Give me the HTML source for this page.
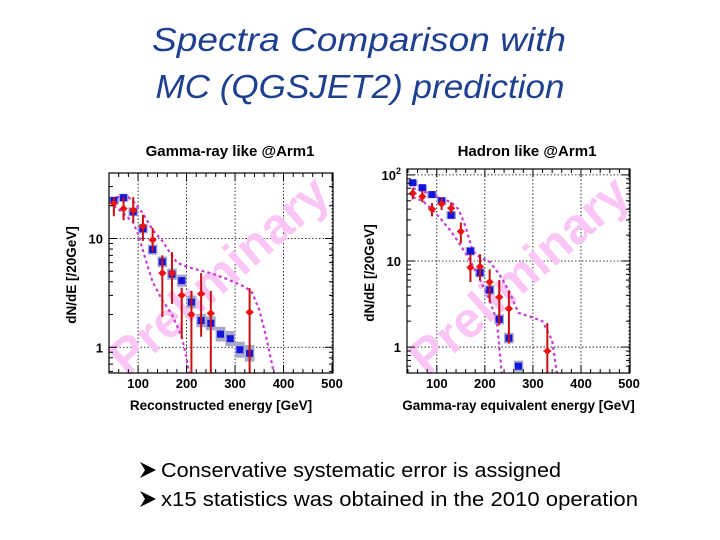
<!DOCTYPE html>
<html><head><meta charset="utf-8"><style>
html,body{margin:0;padding:0;background:#fff;width:720px;height:540px;overflow:hidden}
svg{display:block}
</style></head><body>
<svg id="s" width="720" height="540" xmlns="http://www.w3.org/2000/svg">
<text x="359" y="51" text-anchor="middle" font-family="Liberation Sans, sans-serif" font-style="italic" font-size="33" fill="#1f3f8f" textLength="414" lengthAdjust="spacingAndGlyphs">Spectra Comparison with</text>
<text x="360" y="98" text-anchor="middle" font-family="Liberation Sans, sans-serif" font-style="italic" font-size="33" fill="#1f3f8f" textLength="409" lengthAdjust="spacingAndGlyphs">MC (QGSJET2) prediction</text>
<polygon points="140,462 156,470 140,478 145,470" fill="#000"/>
<text x="161" y="477" font-family="Liberation Sans, sans-serif" font-size="20" fill="#000" textLength="400" lengthAdjust="spacingAndGlyphs">Conservative systematic error is assigned</text>
<polygon points="140,491 156,499 140,507 145,499" fill="#000"/>
<text x="161" y="506" font-family="Liberation Sans, sans-serif" font-size="20" fill="#000" textLength="477" lengthAdjust="spacingAndGlyphs">x15 statistics was obtained in the 2010 operation</text>
</svg>
<script>
// Left panel data (Gamma-ray like)
const gX = [50,70,90,110,130,150,170,190,210,230,250,270,290,310,330];
const gMC = [22.4,23.7,17.6,12.3,7.9,6.1,4.7,4.1,2.6,1.76,1.66,1.32,1.2,0.95,0.88];
const gDataX = [50,70,90,110,130,150,170,190,210,230,250,330];
const gData = [21,18.8,18.2,13,9.7,4.8,4.8,3.0,2.0,3.1,2.05,2.1];
const gHi = [24,24,24,16.5,12.5,7,7.5,3.5,3.3,4.8,3.3,3.5];
const gLo = [16,14.7,14,9.5,7.5,1.9,2.5,1.2,0.5,1.25,0.4,0.5];
const gUpX = [55,80,90,110,130,150,165,180,200,220,250,280,320,335,350,365,380];
const gUpY = [24,24,22,17,12,9.5,7.5,6,5.5,5.2,4.8,4.3,3.6,3.2,2.2,1.2,0.58];
const gLowX = [50,70,90,100,115,130,150,170,190,200,205];
const gLowY = [20,17,14,11,6.5,4,2.7,2.0,1.25,0.8,0.58];
// Right panel data (Hadron like)
const hX = [50,70,90,110,130,170,190,210,230,250,270];
const hMC = [81,71,59,50,34,13,7.3,4.6,2.1,1.27,0.6];
const hDataX = [50,70,90,110,130,150,170,190,210,230,250,330];
const hData = [61,56,40,46,41,22,8.4,8.6,5.7,3.8,2.8,0.9];
const hHi = [70,65,47,54,48,28,12,12,8,6,4.5,1.9];
const hLo = [52,48,33,39,35,16,5.7,6,3.3,1.8,1.1,0.5];
const hUpX = [50,80,110,130,145,160,175,190,210,230,250,270,300,320,340,350];
const hUpY = [70,62,53,48,40,25,13,11,9.8,7,4.5,2.5,2.2,2.0,1.2,0.5];
const hLowX = [50,70,90,110,130,150,170,190,210,225,235];
const hLowY = [55,50,40,30,22,15,10,6,3.5,2,0.5];
const xTicks = [100,200,300,400,500];

const NS='http://www.w3.org/2000/svg';
const svg=document.getElementById('s');
function mk(tag,attrs,parent){const e=document.createElementNS(NS,tag);for(const k in attrs)e.setAttribute(k,attrs[k]);(parent||svg).appendChild(e);return e;}

function panel(p){
  const g=mk('g',{});
  
  
  const sx=v=>p.x0+(v-p.xmin)/(p.xmax-p.xmin)*(p.x1-p.x0);
  const sy=v=>p.y1-(Math.log10(v)-Math.log10(p.ymin))/(Math.log10(p.ymax)-Math.log10(p.ymin))*(p.y1-p.y0);
  const F='Liberation Sans, sans-serif';
  xTicks.forEach(t=>{if(t<p.xmax){const l=mk('line',{x1:sx(t),x2:sx(t),y1:p.y0,y2:p.y1,stroke:'#000','stroke-width':0.8,'stroke-dasharray':'1.5,2'},g);
    }});
  p.decades.forEach(d=>{const l=mk('line',{x1:p.x0,x2:p.x1,y1:sy(d),y2:sy(d),stroke:'#000','stroke-width':0.8,'stroke-dasharray':'1.5,2'},g);
    });
  const wm=mk('text',{x:0,y:0,'font-family':F,'font-weight':'bold','font-size':p.wmSize,fill:'#fac6f5','text-anchor':'middle',transform:`translate(${p.wmX},${p.wmY}) rotate(${p.wmA})`},g);
  wm.textContent='Preliminary';
  
  
  const cid='c'+p.name;
  const cp=mk('clipPath',{id:cid},g);mk('rect',{x:p.x0,y:p.y0,width:p.x1-p.x0,height:p.y1-p.y0},cp);
  const pg=mk('g',{'clip-path':`url(#${cid})`},g);
  p.mcX.forEach((x,i)=>{const v=p.mc[i];const f=1+0.08+i*0.008;
    const r=mk('rect',{x:sx(x-10),y:sy(v*f),width:sx(x+10)-sx(x-10),height:sy(v/f)-sy(v*f),fill:'#a9a9c9'},pg);
    });
  [[p.upX,p.upY,'mc-upper-envelope'],[p.lowX,p.lowY,'mc-lower-envelope']].forEach(([xs,ys,n])=>{
    const d=xs.map((x,i)=>(i?'L':'M')+sx(x).toFixed(1)+','+sy(ys[i]).toFixed(1)).join('');
    const pa=mk('path',{d:d,fill:'none',stroke:'#c83cd2','stroke-width':2.2,'stroke-dasharray':'3,3'},pg);
    });
  p.mcX.forEach((x,i)=>{const r=mk('rect',{x:sx(x)-3.5,y:sy(p.mc[i])-3.5,width:7,height:7,fill:'#1414e0'},pg);
    });
  p.dX.forEach((x,i)=>{const cx=sx(x),cy=sy(p.d[i]);
    const e=mk('g',{},pg);
    
    mk('line',{x1:cx,x2:cx,y1:sy(p.hi[i]),y2:sy(p.lo[i]),stroke:'#c81010','stroke-width':2},e);
    mk('line',{x1:sx(x-10)+1,x2:sx(x+10)-1,y1:cy,y2:cy,stroke:'#e01010','stroke-width':1.6},e);
    mk('circle',{cx:cx,cy:cy,r:3,fill:'#ee1111'},e);});
  const fr=mk('rect',{x:p.x0,y:p.y0,width:p.x1-p.x0,height:p.y1-p.y0,fill:'none',stroke:'#000','stroke-width':1.2},g);
  
  for(let dd=Math.floor(Math.log10(p.ymin));dd<=Math.ceil(Math.log10(p.ymax));dd++){for(let m=1;m<10;m++){const v=m*Math.pow(10,dd);
    if(v<p.ymin||v>p.ymax)continue;const L=m==1?8:4;
    mk('line',{x1:p.x0,x2:p.x0+L,y1:sy(v),y2:sy(v),stroke:'#000','stroke-width':1},g);
    mk('line',{x1:p.x1,x2:p.x1-L,y1:sy(v),y2:sy(v),stroke:'#000','stroke-width':1},g);}}
  for(let v=40;v<=p.xmax;v+=20){if(v<p.xmin)continue;const L=v%100==0?8:4;
    mk('line',{x1:sx(v),x2:sx(v),y1:p.y1,y2:p.y1-L,stroke:'#000','stroke-width':1},g);
    mk('line',{x1:sx(v),x2:sx(v),y1:p.y0,y2:p.y0+L,stroke:'#000','stroke-width':1},g);}
  xTicks.forEach(t=>{const tx=mk('text',{x:sx(t),y:p.y1+15,'text-anchor':'middle','font-family':F,'font-weight':'bold','font-size':13},g);tx.textContent=t;
    });
  p.decades.forEach((d,i)=>{const tx=mk('text',{x:p.x0-6,y:sy(d)+5,'text-anchor':'end','font-family':F,'font-weight':'bold','font-size':13},g);
    tx.textContent=p.decLabels[i];
    if(d===100){tx.textContent='10';const sp=mk('tspan',{'font-size':9,dy:-6},tx);sp.textContent='2';}
    });
  const tt=mk('text',{x:p.tX,y:156,'text-anchor':'middle','font-family':F,'font-weight':'bold','font-size':15},g);tt.textContent=p.title;
  
  const xt=mk('text',{x:(p.x0+p.x1)/2,y:p.y1+37,'text-anchor':'middle','font-family':F,'font-weight':'bold','font-size':13.5},g);xt.textContent=p.xlabel;
  
  const yt=mk('text',{x:0,y:0,'text-anchor':'middle','font-family':F,'font-weight':'bold','font-size':13.5,transform:`translate(${p.x0-33},${(p.y0+p.y1)/2+2}) rotate(-90)`},g);yt.textContent='dN/dE [/20GeV]';
  
}

panel({name:'gamma-panel',x0:109,x1:333,y0:173,y1:373,xmin:40,xmax:502,ymin:0.58,ymax:40,decades:[1,10],decLabels:['1','10'],
  mcX:gX,mc:gMC,dX:gDataX,d:gData,hi:gHi,lo:gLo,upX:gUpX,upY:gUpY,lowX:gLowX,lowY:gLowY,
  title:'Gamma-ray like @Arm1',tX:230,xlabel:'Reconstructed energy [GeV]',wmX:230,wmY:288,wmA:-41,wmSize:50});
panel({name:'hadron-panel',x0:407,x1:630,y0:169,y1:373,xmin:38,xmax:502,ymin:0.5,ymax:117,decades:[1,10,100],decLabels:['1','10','10'],
  mcX:hX,mc:hMC,dX:hDataX,d:hData,hi:hHi,lo:hLo,upX:hUpX,upY:hUpY,lowX:hLowX,lowY:hLowY,
  title:'Hadron like @Arm1',tX:527,xlabel:'Gamma-ray equivalent energy [GeV]',wmX:530,wmY:288,wmA:-41,wmSize:50});
</script>
</body></html>
